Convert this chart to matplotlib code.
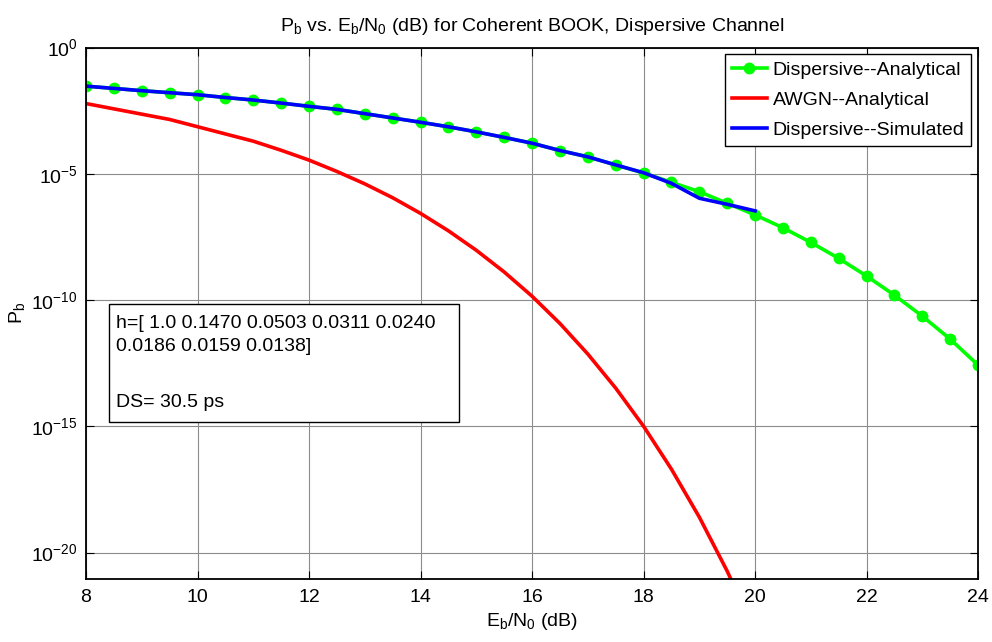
import numpy as np
import matplotlib
matplotlib.use("Agg")
import matplotlib.pyplot as plt
from matplotlib.patches import Rectangle

plt.rcParams['font.family'] = ['Liberation Sans', 'DejaVu Sans']
plt.rcParams['mathtext.fontset'] = 'custom'
plt.rcParams['mathtext.rm'] = 'Liberation Sans'
plt.rcParams['mathtext.it'] = 'Liberation Sans'

# Dispersive analytical (green), Eb/N0 in dB and log10(Pb)
ebn0_disp = [8, 8.5, 9, 9.5, 10, 10.5, 11, 11.5, 12, 12.5, 13, 13.5, 14, 14.5, 15, 15.5,
             16, 16.5, 17, 17.5, 18, 18.5, 19, 19.5, 20, 20.5, 21, 21.5, 22, 22.5, 23, 23.5, 24]
log_pb_disp = [-1.53, -1.62, -1.71, -1.79, -1.87, -1.98, -2.08, -2.20, -2.33, -2.45, -2.62,
               -2.79, -2.96, -3.14, -3.34, -3.56, -3.79, -4.08, -4.33, -4.65, -4.97, -5.34,
               -5.71, -6.17, -6.63, -7.14, -7.72, -8.35, -9.05, -9.81, -10.64, -11.55, -12.58]

# AWGN analytical (red)
ebn0_awgn = [8, 9.5, 11, 11.5, 12, 12.5, 13, 13.5, 14, 14.5, 15, 15.5, 16, 16.5, 17, 17.5,
             18, 18.5, 19, 19.5, 20]
log_pb_awgn = [-2.22, -2.85, -3.71, -4.07, -4.46, -4.91, -5.40, -5.95, -6.57, -7.26, -8.03,
               -8.89, -9.85, -10.93, -12.14, -13.49, -15.00, -16.70, -18.60, -20.74, -23.12]

# Dispersive simulated (blue)
ebn0_sim = [8, 8.5, 9, 9.5, 10, 10.5, 11, 11.5, 12, 12.5, 13, 13.5, 14, 14.5, 15, 15.5,
            16, 16.5, 17, 17.5, 18, 18.5, 19, 19.5, 20]
log_pb_sim = [-1.53, -1.62, -1.71, -1.79, -1.87, -1.98, -2.08, -2.20, -2.33, -2.45, -2.62,
              -2.79, -2.96, -3.14, -3.34, -3.56, -3.79, -4.08, -4.33, -4.65, -4.96, -5.38,
              -5.97, -6.21, -6.47]

x_ticks = [8, 10, 12, 14, 16, 18, 20, 22, 24]
y_ticks = [1e-20, 1e-15, 1e-10, 1e-5, 1e0]
y_tick_labels = ['$10^{-20}$', '$10^{-15}$', '$10^{-10}$', '$10^{-5}$', '$10^{0}$']
box_lines = ['h=[ 1.0 0.1470 0.0503 0.0311 0.0240', '0.0186 0.0159 0.0138]', 'DS= 30.5 ps']

FS = 14

fig = plt.figure(figsize=(9.92, 6.42), dpi=100)
ax = fig.add_axes([0.0867, 0.0981, 0.8993, 0.8279])

ax.semilogy(ebn0_disp, 10.0 ** np.array(log_pb_disp), color=(0, 1, 0), lw=2.6,
            marker='o', markersize=7.5, label='Dispersive--Analytical')
ax.semilogy(ebn0_awgn, 10.0 ** np.array(log_pb_awgn), color=(1, 0, 0), lw=2.6,
            label='AWGN--Analytical')
ax.semilogy(ebn0_sim, 10.0 ** np.array(log_pb_sim), color=(0, 0, 1), lw=2.6,
            label='Dispersive--Simulated')

ax.set_xlim(8, 24)
ax.set_ylim(10 ** -21.05, 1)
ax.set_xticks(x_ticks)
ax.set_xticklabels([str(t) for t in x_ticks])
ax.set_yticks(y_ticks)
ax.set_yticklabels(y_tick_labels)
ax.yaxis.set_minor_locator(matplotlib.ticker.NullLocator())
ax.tick_params(direction='in', length=6, width=0.8, labelsize=FS, top=True, right=True)
ax.tick_params(axis='x', pad=7)
ax.tick_params(axis='y', pad=6)
ax.grid(True, color='#8c8c8c', lw=0.8)
for s in ax.spines.values():
    s.set_linewidth(1.3)

ax.set_title('P$_{\\rm b}$ vs. E$_{\\rm b}$/N$_{\\rm 0}$ (dB) for Coherent BOOK, Dispersive Channel',
             fontsize=FS, pad=12)
ax.set_xlabel('E$_{\\rm b}$/N$_{\\rm 0}$ (dB)', fontsize=FS, labelpad=4)
ax.set_ylabel('P$_{\\rm b}$', fontsize=FS, labelpad=3)

leg = ax.legend(loc='upper right', fontsize=FS, frameon=True, fancybox=False,
                edgecolor='black', framealpha=1, borderaxespad=0.35, handlelength=1.8,
                borderpad=0.35, labelspacing=0.65, handletextpad=0.3)
leg.get_frame().set_linewidth(1.0)

# annotation box
ax.add_patch(Rectangle((0.0258, 0.295), 0.392, 0.222, transform=ax.transAxes,
                       facecolor='white', edgecolor='black', lw=1.0, zorder=5))
for line, ypos in zip(box_lines, [0.481, 0.437, 0.333]):
    ax.text(0.0335, ypos, line, transform=ax.transAxes, fontsize=FS, va='center',
            ha='left', zorder=6)

fig.savefig('out.png', dpi=100)
